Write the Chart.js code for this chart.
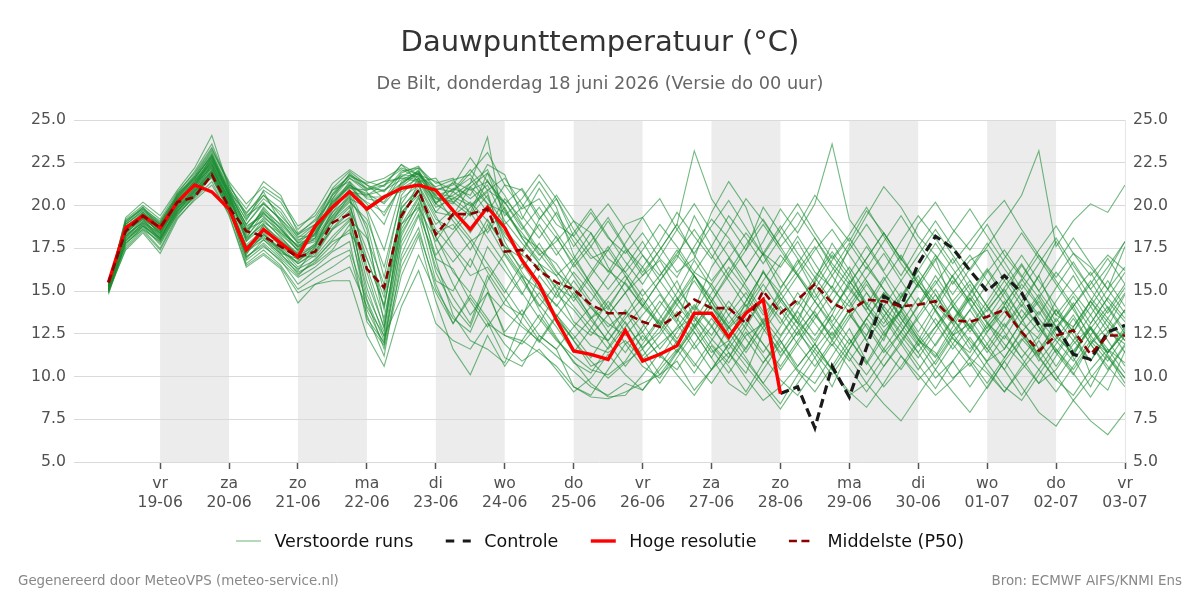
<!DOCTYPE html>
<html>
<head>
<meta charset="utf-8">
<script src="https://cdn.jsdelivr.net/npm/chart.js@4.4.1/dist/chart.umd.min.js"></script>
<style>
html,body{margin:0;padding:0;background:#fff;}
#wrap{position:relative;width:1200px;height:600px;}
canvas{display:block;}
</style>
</head>
<body>
<div id="wrap"><canvas id="c" width="1200" height="600"></canvas></div>
<script>
// ---- categories: lead time in hours since 18-06 00:00 (6-hourly) ----
const leadHours = [6,12,18,24,30,36,42,48,54,60,66,72,78,84,90,96,102,108,114,120,
  126,132,138,144,150,156,162,168,174,180,186,192,198,204,210,216,222,228,234,240,
  246,252,258,264,270,276,282,288,294,300,306,312,318,324,330,336,342,348,354,360];

// ---- tick labels ----
const tickHours = [24,48,72,96,120,144,168,192,216,240,264,288,312,336,360];
const tickDays  = ['vr','za','zo','ma','di','wo','do','vr','za','zo','ma','di','wo','do','vr'];
const tickDates = ['19-06','20-06','21-06','22-06','23-06','24-06','25-06','26-06','27-06','28-06','29-06','30-06','01-07','02-07','03-07'];
// shaded days (start hour of each shaded 24h band)
const shadedDayStarts = [24,72,120,168,216,264,312];

// ---- main series ----
const hres = [15.5,18.7,19.4,18.7,20.2,21.2,20.8,19.8,17.4,18.6,
  17.8,17.0,18.8,19.9,20.8,19.8,20.5,21.0,21.2,20.9,
  19.7,18.6,19.9,18.7,16.8,15.4,13.3,11.5,11.3,11.0,
  12.7,10.9,11.3,11.8,13.7,13.7,12.3,13.7,14.5,9.0];
const control = [null,null,null,null,null,null,null,null,null,null,
  null,null,null,null,null,null,null,null,null,null,
  null,null,null,null,null,null,null,null,null,null,
  null,null,null,null,null,null,null,null,null,9.0,
  9.4,7.0,10.6,8.8,11.7,14.7,14.1,16.6,18.2,17.5,
  16.2,15.0,15.9,14.9,13.0,13.0,11.3,11.0,12.6,13.0];
const median = [15.5,18.5,19.4,18.7,20.2,20.5,21.8,19.9,18.5,18.2,
  17.6,17.0,17.3,19.0,19.5,16.3,15.2,19.4,20.9,18.3,
  19.5,19.5,19.8,17.3,17.4,16.2,15.5,15.1,14.2,13.7,
  13.7,13.2,12.9,13.6,14.5,14.0,14.0,13.1,15.0,13.7,
  14.5,15.4,14.3,13.8,14.5,14.4,14.1,14.2,14.4,13.3,
  13.2,13.5,13.9,12.6,11.5,12.4,12.7,11.3,12.4,12.4];

// ---- ensemble members (Verstoorde runs) ----
const m01 = [15.2,18.9,19.6,18.9,20.4,21.6,23.0,20.8,17.9,19.2, 18.1,17.2,18.4,20.1,21.2,20.6,20.9,21.5,22.0,20.4, 20.1,21.3,22.1,19.8,18.2,17.5,16.1,15.2,14.0,13.1, 12.4,13.6,14.8,13.2,15.9,14.1,12.8,13.9,16.2,14.4, 13.1,15.6,17.8,16.2,14.1,12.9,13.8,15.5,16.9,14.2, 12.8,13.9,15.1,13.4,11.6,12.9,14.1,12.2,11.4,12.7];
const m02 = [15.0,18.2,19.1,18.2,19.8,21.0,22.4,20.1,17.2,18.3, 17.5,16.4,17.1,18.6,19.3,14.8,12.6,19.8,21.1,19.2, 18.6,19.9,20.8,17.4,15.9,15.1,14.2,13.0,11.8,11.4, 12.1,11.0,11.9,12.8,13.5,11.9,10.8,12.4,13.1,11.2, 12.6,13.8,12.1,10.9,12.4,14.6,13.1,11.8,12.9,14.1, 15.4,13.2,11.9,10.8,9.6,11.2,12.8,10.1,9.2,11.5];
const m03 = [15.3,19.1,19.9,18.6,20.7,22.0,23.6,21.2,19.5,20.8, 19.0,17.9,18.8,20.6,21.8,21.2,20.4,21.9,22.3,21.0, 20.8,21.9,23.1,21.2,19.8,20.4,18.9,18.2,19.6,18.1, 17.2,18.4,16.9,15.8,17.6,19.2,18.1,16.4,17.9,19.8, 18.4,20.1,23.6,19.2,17.8,16.2,17.9,19.4,18.1,16.6, 17.9,19.2,20.3,18.6,17.1,15.8,17.2,16.4,15.1,17.6];
const m04 = [15.1,17.6,18.6,17.5,19.4,20.6,21.9,19.9,16.6,17.4, 16.5,15.1,15.8,16.4,17.1,13.6,11.2,16.8,18.7,15.1, 13.4,12.6,14.9,13.8,12.9,12.1,11.2,10.3,9.4,8.9, 9.6,9.2,10.4,11.6,10.2,11.8,10.6,9.1,10.8,12.1, 10.4,9.6,11.2,12.8,10.9,9.4,10.6,12.1,11.4,9.9, 10.8,9.3,10.9,12.2,11.1,9.8,8.9,10.4,11.6,10.2];
const m05 = [15.4,18.7,19.4,18.8,20.1,21.4,22.8,20.6,18.4,19.8, 18.6,17.6,17.9,19.4,20.4,19.9,20.6,20.8,21.4,19.6, 19.4,20.2,19.1,17.6,16.9,15.4,14.1,15.6,14.2,12.9, 13.8,12.1,13.4,14.9,16.8,15.2,13.6,14.9,13.2,15.1, 16.8,14.9,13.2,14.8,16.4,15.1,13.4,12.1,13.9,15.6, 14.2,12.6,13.8,15.4,14.1,12.5,11.2,13.1,14.6,13.4];
const m06 = [14.9,18.0,18.9,17.9,19.6,20.9,21.6,19.6,17.6,18.4, 17.2,16.9,17.8,19.1,20.6,16.4,13.4,18.6,20.4,18.2, 16.1,14.9,17.6,16.2,14.8,16.6,15.1,13.2,12.4,13.6, 14.9,13.1,11.6,12.9,14.2,13.0,11.4,10.2,12.6,14.1, 12.8,11.1,9.4,11.6,13.4,12.1,14.6,15.9,13.8,12.2, 11.4,13.1,14.4,12.6,10.9,12.2,13.6,11.9,12.9,14.8];
const m07 = [15.2,19.3,20.2,19.4,20.9,22.2,24.1,21.0,19.1,20.9, 20.2,18.6,19.6,21.3,22.1,21.4,21.1,22.4,21.8,20.9, 21.2,22.8,21.4,20.1,21.0,19.4,18.1,16.6,17.9,19.3, 17.6,16.1,17.4,18.9,17.1,15.6,16.9,18.4,17.1,15.2, 16.6,18.1,16.4,15.1,13.9,15.6,17.1,15.4,14.2,13.1, 14.8,16.2,14.6,13.1,12.2,13.9,12.6,14.4,13.2,12.1];
const m08 = [15.0,17.9,19.0,18.4,19.9,20.7,22.1,20.4,16.9,18.0, 17.0,16.1,16.6,17.4,18.9,13.9,11.9,17.9,19.8,16.4, 14.6,13.1,15.9,14.2,13.6,14.9,13.4,12.1,10.9,9.9, 10.8,11.6,12.9,11.4,12.8,14.1,12.9,11.6,13.4,12.1, 10.6,11.9,13.6,12.2,10.8,12.6,11.2,9.8,10.9,12.4, 13.1,11.6,10.4,12.1,13.2,11.4,10.1,11.9,10.6,9.4];
const m09 = [15.3,18.4,19.6,18.5,20.4,21.2,22.6,20.9,18.8,19.4, 18.3,17.4,18.1,20.4,21.6,20.8,19.4,21.2,22.1,20.1, 21.0,20.6,22.4,21.8,19.4,18.1,19.6,17.9,16.4,15.1, 16.4,17.9,16.2,14.6,13.2,14.9,16.4,15.1,13.6,14.8, 16.2,17.6,15.9,14.4,15.8,17.2,15.6,14.1,15.4,16.9, 15.1,13.8,15.2,16.6,15.0,13.6,14.9,16.1,14.4,13.2];
const m10 = [15.1,18.6,19.2,18.0,20.0,20.9,22.0,19.8,17.1,18.9, 17.6,16.6,17.3,18.9,19.9,17.4,14.6,19.4,20.9,18.9, 19.8,18.4,19.9,18.4,17.1,16.4,14.8,13.9,12.6,12.1, 13.4,14.6,13.1,11.9,13.6,12.4,14.1,12.8,11.4,12.9, 14.4,13.1,11.8,13.4,14.9,13.6,12.1,13.4,14.8,13.1, 11.6,12.9,14.1,12.4,11.2,13.4,12.1,10.9,12.6,13.9];
const m11 = [15.2,18.3,19.4,18.6,20.3,21.1,22.9,20.7,19.2,20.4, 19.6,18.1,18.9,21.0,22.0,21.2,20.8,22.0,22.2,21.3, 21.6,19.4,20.6,17.9,16.1,14.6,13.4,12.2,13.4,14.1, 12.6,11.2,12.4,13.8,12.6,11.1,12.9,14.2,12.8,11.4, 12.9,14.4,13.1,11.9,13.4,14.9,13.6,12.2,11.1,12.6, 13.9,12.4,11.1,12.6,13.8,12.3,11.4,12.9,11.6,10.8];
const m12 = [15.0,17.4,18.4,17.2,19.2,20.4,21.4,19.4,16.4,17.1, 16.3,14.3,15.4,15.6,15.6,12.4,10.6,14.1,16.2,13.1, 12.1,11.6,13.1,12.4,12.1,11.4,10.6,9.4,8.8,8.7, 9.1,9.6,10.1,10.9,9.2,10.4,11.4,9.9,8.6,9.4, 10.6,11.9,10.4,9.1,8.2,9.6,11.2,10.1,8.9,9.8, 11.1,10.2,9.1,10.4,11.6,10.1,8.6,9.9,11.2,9.6];
const m13 = [15.3,19.0,19.8,19.1,20.6,21.8,23.3,21.4,20.1,21.1, 20.4,18.8,19.4,20.9,21.4,19.8,17.4,21.0,21.6,19.9, 20.4,21.1,21.9,19.4,20.4,21.8,20.4,18.6,17.1,16.2, 15.4,14.1,15.6,17.1,15.9,14.6,13.1,14.4,16.1,14.9, 13.4,15.1,16.8,18.1,16.6,15.1,13.9,15.4,17.1,15.8, 14.4,16.1,17.4,15.9,14.6,16.1,14.9,13.6,15.1,16.4];
const m14 = [14.8,17.8,18.6,17.9,19.6,20.6,21.9,20.1,17.6,18.1, 17.4,16.2,17.6,19.8,20.9,18.6,13.1,19.1,21.4,17.6, 15.4,13.6,14.9,12.6,13.9,12.4,11.6,12.9,14.1,12.6, 11.4,12.9,14.4,13.1,11.6,12.9,14.4,13.1,11.9,10.6, 12.1,13.6,12.2,13.9,15.4,13.9,12.4,11.1,12.6,14.1, 12.9,11.4,12.8,14.2,12.9,11.6,10.4,11.9,13.4,12.1];
const m15 = [15.2,18.8,19.5,18.7,20.2,21.5,22.5,20.5,18.1,19.6, 18.4,17.4,18.6,20.2,21.1,20.1,18.9,21.4,21.9,20.6, 20.9,21.6,20.1,19.6,18.4,17.1,17.9,19.1,18.4,16.9, 16.1,17.4,18.9,17.6,16.1,17.6,19.4,18.1,16.6,18.1, 19.6,18.1,16.6,15.4,16.9,18.4,16.9,15.6,14.4,15.9, 17.1,15.6,14.2,15.6,17.1,15.6,14.1,15.4,16.9,15.4];
const m16 = [15.1,18.1,19.1,18.3,20.0,21.0,22.2,20.2,17.4,18.6, 17.8,16.8,17.4,18.6,19.6,15.6,12.9,18.2,20.2,17.1, 18.4,19.6,18.1,16.6,14.9,13.4,12.1,11.2,10.4,10.1, 10.9,12.4,11.2,10.4,11.9,13.4,12.1,10.9,9.6,11.1, 12.6,11.4,10.1,11.6,13.1,11.6,10.4,11.9,13.4,11.9, 10.6,11.9,13.4,14.9,13.4,12.1,10.9,12.4,11.1,9.9];
const m17 = [15.4,19.2,20.0,19.2,20.8,21.9,23.4,21.1,19.8,21.4, 20.6,18.4,19.1,20.4,21.9,21.0,21.4,22.1,21.6,20.6, 19.1,17.9,18.6,20.4,19.2,21.0,19.4,17.6,18.9,20.1, 18.6,17.1,15.9,17.2,18.6,17.1,15.6,14.1,15.6,17.1, 15.9,14.4,15.9,17.4,18.9,17.4,15.9,17.6,19.1,17.6, 16.2,17.6,19.1,20.6,23.2,17.6,19.1,20.1,19.6,21.2];
const m18 = [15.2,18.5,19.3,18.4,20.1,21.2,22.3,20.3,17.9,18.8, 18.0,17.1,17.6,19.2,20.2,19.2,16.4,20.4,21.2,19.4, 17.6,16.4,18.9,17.1,15.6,14.1,15.4,14.1,12.9,11.6, 12.9,14.1,15.6,14.2,12.9,14.4,15.9,14.6,13.1,14.6, 13.1,11.6,12.9,14.4,12.9,11.4,12.6,14.1,15.6,14.1, 12.6,14.1,12.6,11.1,12.4,13.9,12.4,10.9,12.4,13.9];
const m19 = [15.0,17.7,18.8,17.7,19.5,20.5,21.7,19.7,16.8,17.6, 16.8,15.4,16.2,16.9,17.4,14.4,11.6,15.9,18.2,14.4, 11.6,10.1,12.4,10.6,12.1,13.6,12.2,10.9,9.6,8.8, 8.9,10.1,11.4,10.1,8.9,10.4,11.9,10.6,9.4,8.1, 9.6,11.1,12.6,11.1,9.6,8.4,7.4,8.9,10.4,9.1, 7.9,9.4,10.9,9.4,7.9,7.1,8.6,7.4,6.6,7.9];
const m20 = [15.3,18.9,19.7,18.9,20.5,21.7,23.1,21.0,19.4,20.1, 19.2,18.2,18.2,20.0,21.4,20.4,20.2,21.7,22.2,20.9, 21.3,20.4,21.2,19.1,17.8,16.6,15.9,14.4,15.9,17.4, 15.9,14.4,12.9,14.4,15.9,14.4,12.9,11.4,12.9,14.4, 15.9,14.4,12.9,11.4,10.1,11.6,13.1,14.6,13.1,11.6, 12.9,14.4,15.9,14.4,12.9,11.4,12.9,14.4,12.9,11.4];
const m21 = [15.1,18.4,19.2,18.2,20.2,21.1,22.7,20.6,18.6,19.1, 18.2,17.0,17.0,18.2,19.2,18.1,15.4,19.6,20.6,16.8, 13.6,12.1,11.6,10.8,13.4,15.9,14.6,16.1,14.9,13.6, 14.9,16.4,14.9,13.4,11.9,10.4,11.9,13.4,11.9,10.4, 11.9,13.4,14.9,16.4,14.9,13.4,11.9,10.4,11.9,13.4, 11.9,10.4,9.1,10.6,12.1,10.6,12.1,13.6,12.1,10.6];
const m22 = [15.2,18.6,19.5,18.6,20.3,21.3,22.6,20.5,18.2,19.3, 18.5,17.6,18.4,19.9,20.9,20.2,19.6,21.1,21.9,20.2, 20.6,21.3,24.0,18.6,17.4,18.9,17.4,15.9,14.4,15.9, 17.4,15.9,17.4,18.9,23.2,20.4,18.9,17.4,19.9,18.4, 16.9,15.4,13.9,15.4,16.9,18.4,16.9,15.4,13.9,12.4, 13.9,15.4,16.9,18.4,16.9,15.4,13.9,12.4,13.9,15.4];
const m23 = [15.0,18.0,18.8,18.0,19.7,20.8,21.8,19.9,17.0,17.8, 16.9,15.9,16.9,17.9,18.4,16.9,14.2,18.9,19.9,17.9, 19.4,18.1,16.6,15.1,13.6,12.1,13.6,12.1,10.6,11.1, 12.6,11.1,9.6,11.1,12.6,11.1,9.6,8.9,10.4,11.9, 13.4,11.9,10.4,11.9,13.4,14.9,13.4,11.9,10.4,11.9, 13.4,11.9,10.4,8.9,10.4,11.9,13.4,11.9,10.4,11.9];
const m24 = [15.4,19.0,19.9,19.0,20.7,21.6,22.9,20.8,19.6,20.6, 19.4,18.3,18.9,20.7,21.8,20.9,21.2,22.4,21.4,21.6, 20.2,21.0,19.6,21.2,20.9,19.2,20.4,18.2,16.9,17.4, 18.9,19.3,17.6,16.1,16.9,19.6,21.4,19.9,17.2,16.4, 17.9,16.1,15.2,17.6,19.4,21.1,19.9,18.2,17.1,15.4, 16.8,17.4,15.6,14.1,15.9,17.9,16.2,14.6,13.4,14.9];
const m25 = [15.2,18.2,19.2,18.5,19.9,20.8,22.0,20.0,17.6,18.5, 17.3,16.7,17.7,19.6,20.5,13.4,12.0,17.1,19.4,15.6, 15.0,16.9,15.1,12.4,11.9,13.1,14.9,16.6,15.2,13.6, 11.9,12.6,14.1,15.6,13.4,12.2,11.1,12.9,14.6,13.1, 14.9,13.6,12.4,13.9,12.1,10.6,11.9,13.6,15.1,13.4, 12.1,10.9,11.6,13.2,14.6,12.9,11.1,9.4,11.4,12.6];
const m26 = [15.3,18.7,19.6,18.8,20.5,21.4,22.4,20.7,18.9,20.2, 19.1,17.8,18.1,19.6,21.0,20.9,21.4,21.6,21.4,20.4, 20.4,19.6,21.9,20.6,18.9,17.4,16.6,15.1,13.4,14.6, 15.9,14.2,13.1,14.6,12.9,11.4,12.1,14.4,16.1,14.6, 13.2,12.1,13.6,15.6,14.1,12.6,13.9,12.4,11.2,12.9, 14.6,13.1,12.2,13.9,12.6,14.4,15.9,14.1,12.6,11.9];
const m27 = [14.9,17.5,18.5,17.4,19.3,20.3,21.2,19.5,16.5,17.2, 16.4,14.9,15.4,15.9,16.4,14.1,12.4,14.6,17.1,14.9, 13.1,14.6,13.2,11.1,10.6,12.4,11.6,9.4,8.9,10.4, 11.9,10.6,9.9,11.4,12.9,14.4,12.6,11.1,9.6,8.4, 10.1,11.6,10.4,8.9,9.6,11.1,12.6,11.4,9.9,10.9, 9.4,10.9,12.4,11.1,9.6,10.4,11.9,12.9,11.4,12.6];
const m28 = [15.2,18.6,19.3,18.7,20.3,21.3,22.2,20.4,18.3,19.9, 18.8,17.5,18.3,20.2,21.2,20.5,20.5,21.3,22.0,20.7, 20.5,20.0,20.9,20.2,18.6,19.9,18.4,16.9,18.4,16.4, 14.9,15.9,16.8,15.1,13.9,16.4,17.9,16.4,14.9,16.6, 18.2,16.6,15.1,14.1,15.6,13.9,12.6,14.2,15.9,14.4, 15.6,14.1,12.9,14.4,15.9,13.6,12.9,14.4,16.1,17.9];
const m29 = [15.1,18.3,19.0,18.1,19.9,20.9,22.1,20.1,17.7,18.6, 17.6,16.9,17.5,19.1,20.0,16.9,14.1,19.6,20.8,18.6, 17.4,15.9,16.4,14.9,16.6,15.1,13.6,12.4,11.1,12.6, 13.9,12.6,11.1,12.6,14.1,12.9,11.6,13.1,14.6,13.4, 11.9,10.6,12.1,13.6,12.4,14.1,12.9,11.4,12.9,14.4, 12.9,11.6,13.1,11.6,10.4,9.1,10.6,12.1,10.9,12.4];
const m30 = [15.3,18.8,19.4,18.3,20.6,21.5,23.0,20.9,18.6,19.5, 18.7,17.3,18.7,20.6,21.6,21.0,20.9,21.8,21.7,21.1, 21.5,21.8,20.4,18.9,19.9,21.4,19.9,17.1,15.4,13.9, 15.6,17.1,15.6,16.9,19.4,17.6,15.9,17.4,18.9,17.4, 15.9,17.4,18.6,17.1,15.6,14.1,15.6,17.1,18.6,17.1, 15.6,14.1,15.6,17.1,15.6,14.1,12.6,14.1,15.6,14.1];
const m31 = [15.2,18.5,19.5,18.9,20.0,21.3,22.7,20.6,18.0,19.0, 18.4,17.7,18.0,19.4,20.7,18.2,13.9,20.1,21.6,19.6, 20.8,20.1,18.4,19.9,18.1,16.8,18.2,16.4,17.6,19.1, 17.5,16.4,17.9,19.6,18.2,16.9,18.6,20.4,19.1,17.6, 18.8,20.6,19.2,17.9,19.7,18.4,16.8,18.9,20.2,18.6, 17.4,18.9,17.1,15.8,17.4,18.8,17.2,15.9,17.1,16.2];
const m32 = [15.1,18.2,19.0,18.1,19.8,20.8,22.3,20.0,17.3,18.2, 17.1,16.3,16.8,18.0,19.1,15.2,12.3,18.4,20.1,16.1, 14.1,12.9,15.6,17.2,15.8,14.2,12.9,11.4,12.8,14.4, 13.1,11.7,12.6,14.2,15.6,14.1,12.4,13.8,15.4,13.9, 12.4,13.9,15.3,13.7,12.1,13.5,14.9,13.2,11.8,13.3, 14.6,13.1,11.6,13.2,14.4,12.9,11.5,12.8,14.1,12.7];
const m33 = [15.3,18.9,19.7,19.0,20.5,21.6,22.9,20.7,18.9,20.1, 19.2,18.0,18.3,19.8,20.8,20.6,21.2,21.7,21.5,20.1, 19.4,21.1,20.1,18.2,17.1,19.2,20.6,19.1,17.6,16.1, 17.8,19.3,20.4,18.6,17.2,18.8,20.3,18.7,17.1,18.6, 20.1,18.4,16.9,18.3,19.9,18.2,16.6,15.2,16.8,18.4, 19.8,18.2,16.7,15.1,16.6,18.1,16.5,15.1,16.4,17.9];
const m34 = [15.0,17.8,18.7,17.8,19.5,20.5,21.8,19.8,17.0,17.7, 16.7,15.8,16.4,17.3,17.9,13.2,11.8,16.4,18.4,15.4, 13.1,14.8,13.4,11.9,10.9,11.6,10.4,9.1,9.9,11.3, 10.1,9.2,10.6,12.1,10.8,9.6,11.1,12.6,11.2,9.8, 8.9,10.4,11.9,10.5,9.1,10.6,12.1,10.7,9.3,10.9, 12.3,10.8,9.4,8.6,10.1,11.6,10.2,8.8,10.3,11.8];
const m35 = [15.2,18.7,19.3,18.5,20.2,21.1,22.5,20.3,18.5,19.7, 18.9,17.8,18.6,20.3,21.3,19.6,15.8,20.6,21.8,20.1, 21.4,20.9,21.4,20.2,18.8,17.2,15.9,16.9,15.4,14.1, 15.5,14.1,13.0,14.5,16.1,15.4,13.9,15.6,17.2,15.7, 14.2,15.8,17.3,15.9,14.3,13.1,14.7,16.2,14.8,13.3, 14.9,16.3,14.9,13.4,14.8,13.2,14.7,13.1,14.6,16.1];
const m36 = [15.1,18.1,18.9,18.0,19.7,20.7,21.7,19.7,17.5,18.3, 17.4,16.6,17.2,18.7,19.7,16.1,12.8,18.9,20.5,18.4, 18.9,17.4,19.2,17.6,16.3,17.8,16.2,14.7,13.3,12.1, 13.6,15.1,13.6,12.2,13.8,15.4,16.9,15.3,13.8,12.4, 13.9,15.5,17.1,15.6,14.2,15.8,14.1,12.6,14.2,15.9, 14.3,12.8,14.2,15.7,14.2,12.7,14.1,15.6,14.0,12.5];
const m37 = [15.3,18.6,19.5,18.7,20.4,21.4,22.8,20.6,18.7,19.6, 18.6,17.6,18.5,20.0,21.1,20.7,20.1,21.3,21.9,20.5, 20.2,19.4,21.5,19.7,18.1,16.6,15.2,14.6,16.1,17.6, 16.1,14.7,15.9,17.4,15.9,14.4,16.1,17.7,19.2,17.6, 16.0,14.6,16.2,17.8,16.3,17.9,19.4,17.8,16.3,14.8, 16.3,17.8,16.3,14.9,13.6,15.2,16.7,15.1,13.7,15.2];
const m38 = [15.0,17.9,18.8,18.1,19.7,20.6,22.0,20.2,17.3,18.0, 17.2,16.0,16.7,17.7,18.6,14.5,12.1,17.6,19.5,16.9, 16.3,14.4,12.9,14.4,15.9,13.9,12.3,10.8,10.2,11.7, 13.2,11.6,10.1,11.5,13.1,11.6,10.2,11.7,13.2,11.7, 10.3,9.1,10.6,12.2,10.7,12.3,13.8,12.2,10.7,12.3, 11.0,9.6,11.1,12.7,11.2,9.8,11.3,12.8,11.3,9.9];
const m39 = [15.4,19.1,19.8,18.9,20.6,21.7,23.2,21.3,19.3,20.6, 19.8,18.3,19.2,20.9,21.7,21.3,21.6,22.2,21.8,21.4, 20.9,22.1,20.9,21.6,20.1,18.6,17.1,18.4,19.8,18.2, 16.7,15.4,17.0,18.6,20.1,18.5,17.0,15.6,17.2,18.8, 17.2,15.8,14.4,16.0,17.6,16.1,14.6,16.2,17.8,16.3, 14.8,13.4,14.9,16.5,15.0,16.6,18.1,16.6,15.1,13.7];
const m40 = [15.2,18.4,19.3,18.4,20.1,21.0,22.4,20.4,18.1,18.9, 17.9,17.2,17.7,19.3,20.3,18.9,14.9,19.9,20.9,18.1, 16.7,17.9,16.1,14.6,13.1,12.0,13.5,14.9,13.5,12.0, 10.6,11.9,13.3,12.0,10.6,12.1,13.6,12.2,10.8,12.3, 13.8,12.4,13.9,15.3,13.8,12.4,13.9,15.4,13.9,12.5, 11.1,12.6,14.1,12.7,11.3,12.8,14.3,12.8,11.4,12.9];
const members = [m01,m02,m03,m04,m05,m06,m07,m08,m09,m10,m11,m12,m13,m14,m15,m16,m17,m18,m19,m20,
  m21,m22,m23,m24,m25,m26,m27,m28,m29,m30,m31,m32,m33,m34,m35,m36,m37,m38,m39,m40];

// ---- build datasets from the arrays ----
const FONT = "'DejaVu Sans'";
const toXY = arr => arr.map((v, i) => ({x: leadHours[i], y: v}));
const memberColor = 'rgba(28,140,50,0.62)';
const datasets = [];
members.forEach((m, k) => {
  datasets.push({
    label: k === 0 ? 'Verstoorde runs' : '',
    inLegend: k === 0,
    data: toXY(m), borderColor: memberColor, borderWidth: 1.1,
    legendColor: 'rgba(28,140,50,0.6)', legendWidth: 1.1,
    pointRadius: 0, tension: 0, order: 3, yAxisID: 'y'
  });
});
datasets.push({label: 'Controle', inLegend: true, data: toXY(control), borderColor: '#1a1a1a', borderWidth: 3.2,
  borderDash: [9, 5], legendDash: [8.5, 8.5], legendColor: '#1a1a1a', legendWidth: 3.2,
  pointRadius: 0, tension: 0, spanGaps: false, order: 2, yAxisID: 'y'});
datasets.push({label: 'Hoge resolutie', inLegend: true, data: toXY(hres), borderColor: '#ff0000', borderWidth: 3.4,
  legendColor: '#ff0000', legendWidth: 3.4, pointRadius: 0, tension: 0, order: 1, yAxisID: 'y'});
datasets.push({label: 'Middelste (P50)', inLegend: true, data: toXY(median), borderColor: '#8b0000', borderWidth: 2.6,
  borderDash: [8, 4.5], legendDash: [8, 4.5], legendColor: '#8b0000', legendWidth: 2.6,
  pointRadius: 0, tension: 0, order: 0, yAxisID: 'y'});

// ---- plugins: day bands, legend, footer ----
const bandPlugin = {
  id: 'bands',
  beforeDraw(chart) {
    const {ctx, chartArea: a, scales: {x}} = chart;
    ctx.save();
    ctx.fillStyle = '#ececec';
    shadedDayStarts.forEach(h => {
      const x0 = x.getPixelForValue(h), x1 = x.getPixelForValue(h + 24);
      ctx.fillRect(x0, a.top, x1 - x0, a.bottom - a.top);
    });
    ctx.restore();
  }
};
const legendPlugin = {
  id: 'customLegend',
  afterDraw(chart) {
    const ctx = chart.ctx;
    const items = chart.data.datasets.filter(d => d.inLegend);
    ctx.save();
    ctx.font = "17.5px " + FONT;
    const handle = 25, gap = 13.5, itemGap = 32.5, yLine = 541, yText = 547.3;
    const widths = items.map(d => ctx.measureText(d.label).width);
    const total = widths.reduce((s, w) => s + handle + gap + w, 0) + itemGap * (items.length - 1);
    let xPos = (chart.width - total) / 2;
    items.forEach((d, i) => {
      ctx.beginPath();
      ctx.setLineDash(d.legendDash || []);
      ctx.strokeStyle = d.legendColor; ctx.lineWidth = d.legendWidth;
      ctx.moveTo(xPos, yLine); ctx.lineTo(xPos + handle, yLine); ctx.stroke();
      ctx.setLineDash([]);
      ctx.fillStyle = '#111';
      ctx.textBaseline = 'alphabetic'; ctx.textAlign = 'left';
      ctx.fillText(d.label, xPos + handle + gap, yText);
      xPos += handle + gap + widths[i] + itemGap;
    });
    ctx.font = "13.4px " + FONT;
    ctx.fillStyle = '#888';
    ctx.fillText('Gegenereerd door MeteoVPS (meteo-service.nl)', 18, 585);
    ctx.textAlign = 'right';
    ctx.fillText('Bron: ECMWF AIFS/KNMI Ens', 1182, 585);
    ctx.restore();
  }
};

const yTicks = {color: '#505050', font: {family: FONT, size: 15.7}, stepSize: 2.5, padding: 8,
  callback: v => Number(v).toFixed(1)};

new Chart(document.getElementById('c'), {
  type: 'line',
  data: {datasets},
  options: {
    responsive: false, animation: false, devicePixelRatio: 1,
    layout: {padding: 0},
    plugins: {
      legend: {display: false},
      tooltip: {enabled: false},
      title: {display: true, text: 'Dauwpunttemperatuur (°C)', color: '#333',
        font: {family: FONT, size: 29, weight: 'normal', lineHeight: 1.2}, padding: {top: 26.3, bottom: 0}},
      subtitle: {display: true, text: 'De Bilt, donderdag 18 juni 2026 (Versie do 00 uur)', color: '#666',
        font: {family: FONT, size: 17.7, weight: 'normal', lineHeight: 1.2}, padding: {top: 12.3, bottom: 25.4}}
    },
    scales: {
      x: {type: 'linear', min: -6, max: 360,
        afterBuildTicks: s => { s.ticks = tickHours.map(v => ({value: v})); },
        afterFit: s => { s.height = 138; },
        grid: {display: true, drawOnChartArea: false, drawTicks: true, tickLength: 7, tickWidth: 1.5, tickColor: '#555'},
        border: {display: false},
        ticks: {autoSkip: false, maxRotation: 0, padding: 5, color: '#505050',
          font: {family: FONT, size: 15.6, lineHeight: 1.25},
          callback: v => { const k = tickHours.indexOf(v); return k < 0 ? '' : [tickDays[k], tickDates[k]]; }}
      },
      y: {position: 'left', min: 5, max: 25,
        afterFit: s => { s.width = 74; },
        grid: {color: '#dadada', lineWidth: 1, drawTicks: false},
        border: {display: false},
        ticks: yTicks
      },
      y2: {position: 'right', min: 5, max: 25,
        afterFit: s => { s.width = 75; },
        grid: {display: false, drawTicks: false},
        border: {display: true, color: '#e6e6e6'},
        ticks: yTicks
      }
    }
  },
  plugins: [bandPlugin, legendPlugin]
});
</script>
</body>
</html>
